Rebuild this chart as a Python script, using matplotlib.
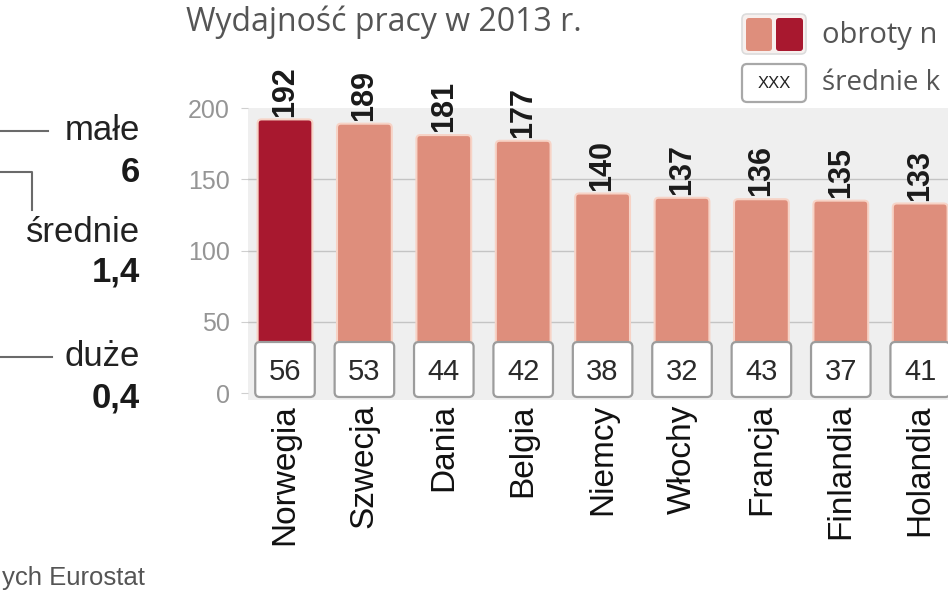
import matplotlib
matplotlib.use('Agg')
import matplotlib.pyplot as plt
from matplotlib.patches import FancyBboxPatch
from matplotlib.lines import Line2D

# data
countries = ['Norwegia', 'Szwecja', 'Dania', 'Belgia', 'Niemcy', 'Włochy',
             'Francja', 'Finlandia', 'Holandia']
turnover = [192, 189, 181, 177, 140, 137, 136, 135, 133]
labour_cost = [56, 53, 44, 42, 38, 32, 43, 37, 41]
highlight = 'Norwegia'
yticks = [0, 50, 100, 150, 200]
firm_sizes = ['małe', 'średnie', 'duże']
firm_values = ['6', '1,4', '0,4']

plt.rcParams['font.family'] = ['Liberation Sans', 'DejaVu Sans']
wide = ['Open Sans', 'DejaVu Sans']

W, H = 948, 593
fig = plt.figure(figsize=(W / 100, H / 100), dpi=100)
fig.patch.set_facecolor('white')

def fx(px):
    return px / W

def fy(py):
    return 1 - py / H

# main chart
ax = fig.add_axes([fx(248), fy(400), 700 / W, 292 / H])
ax.set_facecolor('#efefef')
ax.set_xlim(-0.466, 8.35)
ax.set_ylim(-4.9, 200)
aspect = (700 / 8.816) / (292 / 204.9)

light, dark = '#de8e7c', '#a8182f'
bar_w, box_w = 0.69, 0.75
for g in yticks[1:-1]:
    ax.axhline(g, color='#c4c4c4', lw=1, zorder=0)

for i, (c, v, k) in enumerate(zip(countries, turnover, labour_cost)):
    col = dark if c == highlight else light
    ax.add_patch(FancyBboxPatch((i - bar_w / 2, 0), bar_w, v,
                                boxstyle='round,pad=0,rounding_size=0.05',
                                mutation_aspect=aspect, fc=col, ec='#f7d3c6',
                                lw=1.5, zorder=2))
    ax.add_patch(FancyBboxPatch((i - box_w / 2, -2.8), box_w, 38.6,
                                boxstyle='round,pad=0,rounding_size=0.06',
                                mutation_aspect=aspect, fc='white', ec='#9c9c9c',
                                lw=1.6, zorder=3))
    ax.text(i, v + 2, str(v), rotation=90, ha='center', va='bottom',
            fontsize=22, fontweight='bold', color='#1a1a1a', zorder=4)
    ax.text(i, 15, str(k), ha='center', va='center', fontsize=21,
            color='#2a2a2a', zorder=4)

ax.set_xticks(range(len(countries)))
ax.set_xticklabels(countries, rotation=90, fontsize=24, color='#111')
ax.set_yticks(yticks)
ax.set_yticklabels([str(t) for t in yticks], fontsize=18, color='#959595')
ax.tick_params(axis='x', length=0, pad=3)
ax.tick_params(axis='y', length=5, color='#cfcfcf', pad=8)
for s in ax.spines.values():
    s.set_visible(False)

# title
fig.text(fx(186), fy(22), 'Wydajność pracy w 2013 r.', fontsize=23,
         family=wide, color='#555555', va='center')

# legend (cut by the right edge in the original)
di = fig.dpi_scale_trans
def inch(px, py):
    return px / 100, (H - py) / 100

fig.add_artist(FancyBboxPatch(inch(742, 54), 0.64, 0.40,
                              boxstyle='round,pad=0,rounding_size=0.05',
                              fc='#f7f0ee', ec='#dcdcdc', lw=1.2, transform=di))
fig.add_artist(FancyBboxPatch(inch(746, 51), 0.26, 0.33,
                              boxstyle='round,pad=0,rounding_size=0.03',
                              fc=light, ec='none', transform=di))
fig.add_artist(FancyBboxPatch(inch(776, 51), 0.27, 0.33,
                              boxstyle='round,pad=0,rounding_size=0.03',
                              fc=dark, ec='none', transform=di))
fig.add_artist(FancyBboxPatch(inch(742, 102), 0.64, 0.38,
                              boxstyle='round,pad=0,rounding_size=0.05',
                              fc='white', ec='#a8a8a8', lw=1.6, transform=di))
fig.text(fx(774), fy(83), 'XXX', fontsize=12, color='#222', ha='center',
         va='center')
fig.text(fx(822), fy(35), 'obroty n', fontsize=21, family=wide,
         color='#555555', va='center')
fig.text(fx(822), fy(83), 'średnie k', fontsize=20, family=wide,
         color='#555555', va='center')

# left panel (cut by the left edge in the original)
lab_y = [131, 233, 357]
val_y = [172, 272, 398]
for name, val, ly, vy in zip(firm_sizes, firm_values, lab_y, val_y):
    fig.text(fx(140), fy(ly), name, ha='right', va='center', fontsize=25,
             color='#222222')
    fig.text(fx(140), fy(vy), val, ha='right', va='center', fontsize=25,
             fontweight='bold', color='#1a1a1a')

line_kw = dict(color='#6a6a6a', lw=1.5, transform=fig.transFigure)
fig.add_artist(Line2D([fx(-10), fx(48)], [fy(131), fy(131)], **line_kw))
fig.add_artist(Line2D([fx(-10), fx(32), fx(32)], [fy(172), fy(172), fy(210)],
                      **line_kw))
fig.add_artist(Line2D([fx(-10), fx(52)], [fy(357), fy(357)], **line_kw))

fig.text(fx(145), fy(578), 'ych Eurostat', ha='right', va='center',
         fontsize=18.5, color='#555555')

fig.savefig('out.png', dpi=100)
